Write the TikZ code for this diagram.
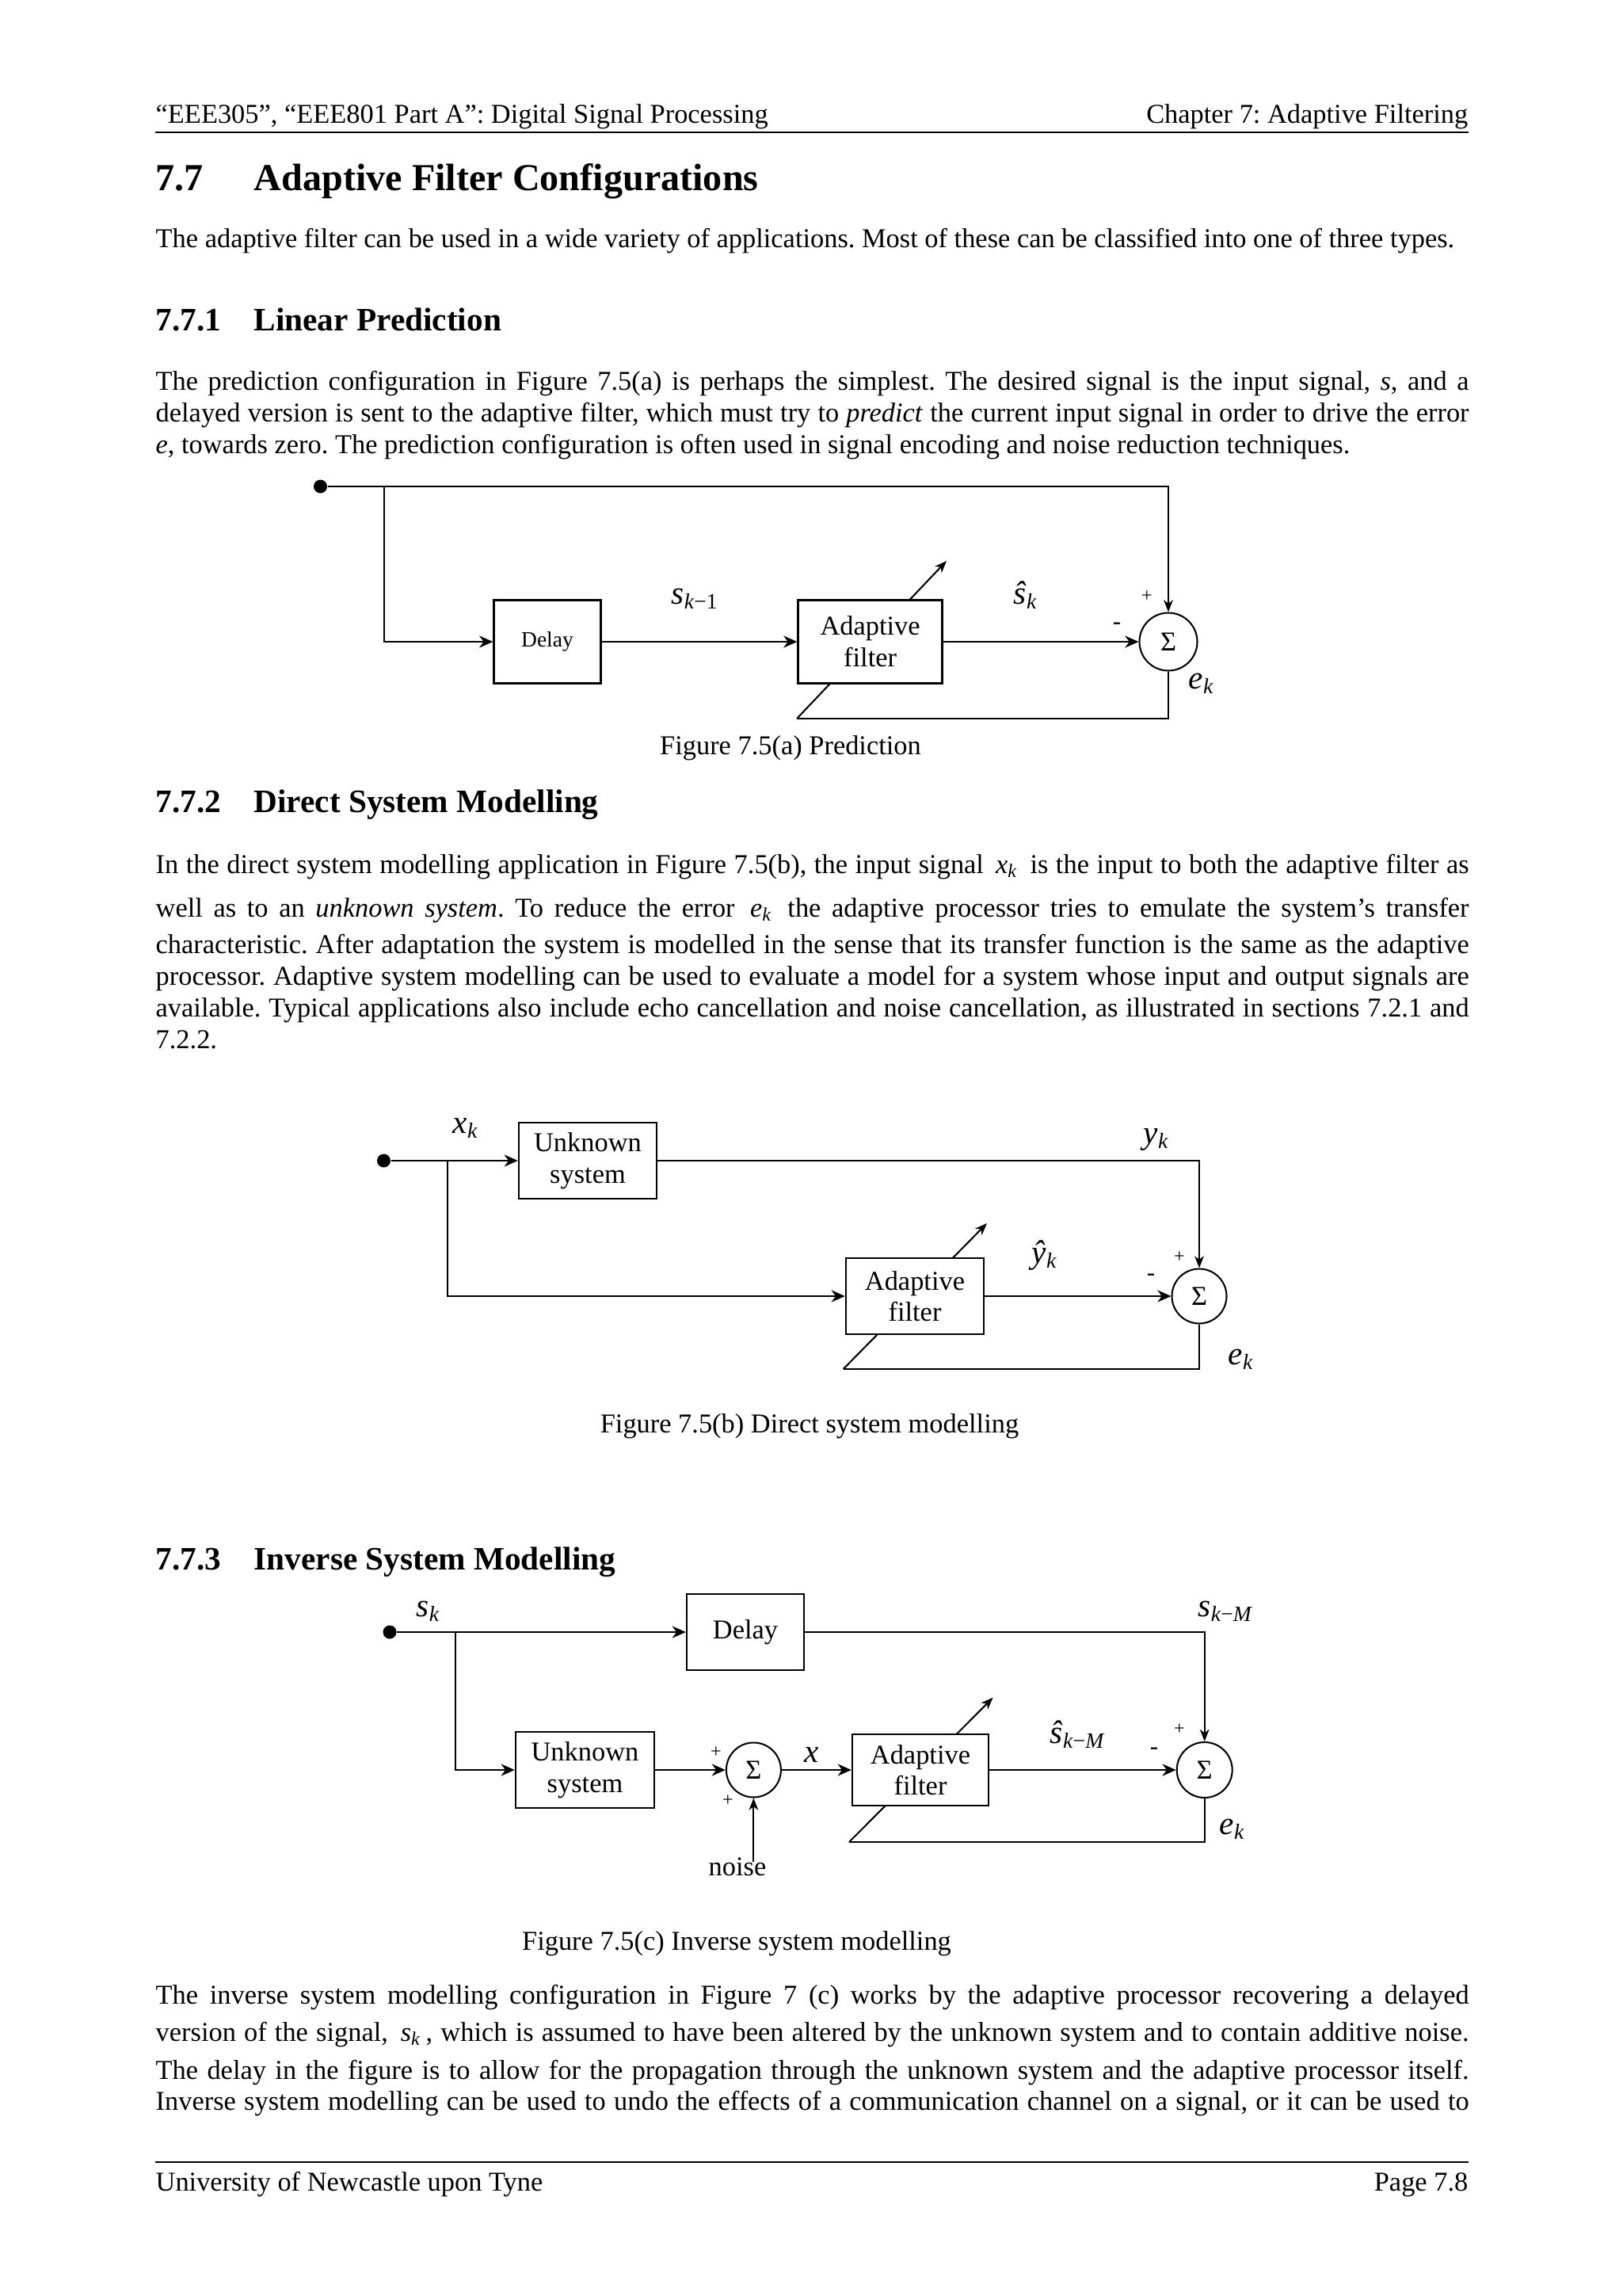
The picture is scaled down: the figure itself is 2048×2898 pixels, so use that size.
\documentclass[tikz,border=0pt]{standalone}
\usepackage{fontspec}
\setmainfont{Liberation Serif}
\usetikzlibrary{arrows.meta}
\frenchspacing
\def\pu{0.290664pt}
\newlength{\pgtw}\setlength{\pgtw}{481.9pt}
\newcommand{\jl}[1]{\hbox to \pgtw{#1}}
\newcommand{\vsub}[2]{\textit{#1}\textsubscript{\textit{#2}}}
\begin{document}
\begin{tikzpicture}[x=\pu,y=-\pu,
  txt/.style={anchor=base west,inner sep=0pt,font=\fontsize{10}{12}\selectfont},
  txtc/.style={txt,anchor=base},
  txte/.style={txt,anchor=base east},
  hone/.style={anchor=base west,inner sep=0pt,font=\fontsize{14}{16}\selectfont\bfseries},
  htwo/.style={anchor=base west,inner sep=0pt,font=\fontsize{12}{14}\selectfont\bfseries},
  blk/.style={draw,line width=0.7pt,fill=white,align=center,inner sep=0pt,font=\fontsize{10}{11.5}\selectfont},
  sumn/.style={draw,circle,line width=0.6pt,fill=white,inner sep=0pt,font=\fontsize{10}{12}\selectfont},
  sig/.style={anchor=base west,inner sep=0pt,font=\fontsize{12}{14}\selectfont},
  pm/.style={inner sep=0pt,font=\fontsize{7}{8}\selectfont},
  wire/.style={line width=0.6pt},
  arr/.style={wire,-{Stealth[length=5pt,width=4.4pt,inset=1.6pt]}},
  sarr/.style={wire,-{Stealth[length=4.4pt,width=3.4pt,inset=1.3pt]}},
  dotn/.style={circle,fill=black,inner sep=0pt,minimum size={17*\pu}}
]
\fill[white] (0,0) rectangle (2048,2898);
\useasboundingbox (0,0) rectangle (2048,2898);

% ---------- header ----------
\node[txt] (hdl) at (196,155) {“EEE305”, “EEE801 Part A”: Digital Signal Processing};
\node[txte] (hdr) at (1854,155) {Chapter 7: Adaptive Filtering};
\draw[line width=0.6pt] (196,167) -- (1854,167);

\node[hone] (t77) at (196,240) {7.7};
\node[hone] (t77b) at (320,240) {Adaptive Filter Configurations};
\node[txt] (p0) at (196,312) {The adaptive filter can be used in a wide variety of applications. Most of these can be classified into one of three types.};

% ---------- 7.7.1 ----------
\node[htwo] (t771) at (196,417) {7.7.1};
\node[htwo] (t771b) at (320,417) {Linear Prediction};
\node[txt] (p1a) at (196,492) {\jl{The prediction configuration in Figure 7.5(a) is perhaps the simplest. The desired signal is the input signal, \textit{s}, and a}};
\node[txt] (p1b) at (196,532) {\jl{delayed version is sent to the adaptive filter, which must try to \textit{predict} the current input signal in order to drive the error}};
\node[txt] (p1c) at (196,572) {\textit{e}, towards zero. The prediction configuration is often used in signal encoding and noise reduction techniques.};

% ---------- Figure (a) ----------
\coordinate (aFb) at (1006,907);
\coordinate (aTip) at (1195,708);
\draw[sarr] (aFb) -- (aTip);
\node[dotn] (aIn) at (404.5,614) {};
\coordinate (aBr) at (485,614);
\node[blk,minimum width={135*\pu},minimum height={105*\pu},font=\fontsize{8}{9}\selectfont] (aDel) at (691,810) {Delay};
\node[blk,minimum width={182*\pu},minimum height={105*\pu}] (aAF) at (1098.6,810) {Adaptive\\filter};
\node[sumn,minimum size={73*\pu}] (aSum) at (1475,810) {Σ};
\draw[sarr] (aIn) -| (aSum.north);
\draw[arr] (aBr) |- (aDel.west);
\draw[arr] (aDel) -- (aAF);
\draw[arr] (aAF) -- (aSum);
\draw[wire] (aSum.south) |- (aFb);
\node[sig] (aL1) at (847,762) {\textit{s}\textsubscript{\textit{k}−1}};
\node[sig] (aL2) at (1279,762) {\vsub{ŝ}{k}};
\node[pm] (aP) at (1448,753) {+};
\node[pm,font=\fontsize{9}{10}\selectfont] (aM) at (1410,790) {-};
\node[sig] (aE) at (1500,869) {\vsub{e}{k}};
\node[txtc] (capa) at (998,952) {Figure 7.5(a) Prediction};

% ---------- 7.7.2 ----------
\node[htwo] (t772) at (196,1025) {7.7.2};
\node[htwo] (t772b) at (320,1025) {Direct System Modelling};
\node[txt] (p2a) at (196,1102) {\jl{In the direct system modelling application in Figure 7.5(b), the input signal \,\vsub{x}{k}\, is the input to both the adaptive filter as}};
\node[txt] (p2b) at (196,1157) {\jl{well as to an \textit{unknown system}. To reduce the error \,\vsub{e}{k}\, the adaptive processor tries to emulate the system’s transfer}};
\node[txt] (p2c) at (196,1203) {\jl{characteristic. After adaptation the system is modelled in the sense that its transfer function is the same as the adaptive}};
\node[txt] (p2d) at (196,1243) {\jl{processor. Adaptive system modelling can be used to evaluate a model for a system whose input and output signals are}};
\node[txt] (p2e) at (196,1283) {\jl{available. Typical applications also include echo cancellation and noise cancellation, as illustrated in sections 7.2.1 and}};
\node[txt] (p2f) at (196,1323) {7.2.2.};

% ---------- Figure (b) ----------
\coordinate (bFb) at (1064.6,1728);
\coordinate (bTip) at (1246,1544);
\draw[sarr] (bFb) -- (bTip);
\node[dotn] (bIn) at (484.5,1465) {};
\coordinate (bBr) at (565,1465);
\node[blk,minimum width={174*\pu},minimum height={96*\pu}] (bUS) at (742,1465) {Unknown\\system};
\node[blk,minimum width={174*\pu},minimum height={96*\pu}] (bAF) at (1155,1636) {Adaptive\\filter};
\node[sumn,minimum size={69*\pu}] (bSum) at (1514,1636) {Σ};
\draw[arr] (bIn) -- (bUS);
\draw[arr] (bBr) |- (bAF.west);
\draw[sarr] (bUS) -| (bSum.north);
\draw[arr] (bAF) -- (bSum);
\draw[wire] (bSum.south) |- (bFb);
\node[sig] (bX) at (571,1430) {\vsub{x}{k}};
\node[sig] (bY) at (1443,1443) {\vsub{y}{k}};
\node[sig] (bYh) at (1302,1594) {\vsub{ŷ}{k}};
\node[pm] (bP) at (1489,1587) {+};
\node[pm,font=\fontsize{9}{10}\selectfont] (bM) at (1453,1612) {-};
\node[sig] (bE) at (1550,1722) {\vsub{e}{k}};
\node[txtc] (capb) at (1022,1808) {Figure 7.5(b) Direct system modelling};

% ---------- 7.7.3 ----------
\node[htwo] (t773) at (196,1981) {7.7.3};
\node[htwo] (t773b) at (320,1981) {Inverse System Modelling};

% ---------- Figure (c) ----------
\coordinate (cFb) at (1072,2325);
\coordinate (cTip) at (1253.6,2142.7);
\draw[sarr] (cFb) -- (cTip);
\node[dotn] (cIn) at (492,2060) {};
\coordinate (cBr) at (575,2060);
\node[blk,minimum width={148*\pu},minimum height={96*\pu}] (cDel) at (941,2060) {Delay};
\node[blk,minimum width={175*\pu},minimum height={96*\pu}] (cUS) at (738.5,2234) {Unknown\\system};
\node[sumn,minimum size={69*\pu}] (cS1) at (951.4,2234) {Σ};
\node[blk,minimum width={172*\pu},minimum height={90*\pu}] (cAF) at (1162,2234) {Adaptive\\filter};
\node[sumn,minimum size={70*\pu}] (cS2) at (1520.7,2234) {Σ};
\coordinate (cNz) at (951.4,2350);
\draw[arr] (cIn) -- (cDel);
\draw[arr] (cBr) |- (cUS.west);
\draw[sarr] (cDel) -| (cS2.north);
\draw[arr] (cUS) -- (cS1);
\draw[arr] (cS1) -- (cAF);
\draw[arr] (cAF) -- (cS2);
\draw[sarr] (cNz) -- (cS1.south);
\draw[wire] (cS2.south) |- (cFb);
\node[sig] (cSk) at (525,2040) {\vsub{s}{k}};
\node[sig] (cSkM) at (1512,2040) {\textit{s}\textsubscript{\textit{k}−\textit{M}}};
\node[sig] (cShat) at (1325,2200) {\textit{ŝ}\textsubscript{\textit{k}−\textit{M}}};
\node[sig] (cX) at (1015,2224) {\textit{x}};
\node[pm] (cP1) at (904,2212) {+};
\node[pm] (cP2) at (919,2273) {+};
\node[txtc] (cNoise) at (931,2367) {noise};
\node[pm] (cP3) at (1489,2183) {+};
\node[pm,font=\fontsize{9}{10}\selectfont] (cM) at (1457,2210) {-};
\node[sig] (cE) at (1539,2315) {\vsub{e}{k}};
\node[txtc] (capc) at (930,2461) {Figure 7.5(c) Inverse system modelling};

% ---------- closing paragraph ----------
\node[txt] (p3a) at (196,2529) {\jl{The inverse system modelling configuration in Figure 7 (c) works by the adaptive processor recovering a delayed}};
\node[txt] (p3b) at (196,2576) {\jl{version of the signal, \,\vsub{s}{k}\,, which is assumed to have been altered by the unknown system and to contain additive noise.}};
\node[txt] (p3c) at (196,2624) {\jl{The delay in the figure is to allow for the propagation through the unknown system and the adaptive processor itself.}};
\node[txt] (p3d) at (196,2663) {\jl{Inverse system modelling can be used to undo the effects of a communication channel on a signal, or it can be used to}};

% ---------- footer ----------
\draw[line width=0.6pt] (196,2729) -- (1854,2729);
\node[txt] (ftl) at (196,2765) {University of Newcastle upon Tyne};
\node[txte] (ftr) at (1854,2765) {Page 7.8};
\end{tikzpicture}
\end{document}
